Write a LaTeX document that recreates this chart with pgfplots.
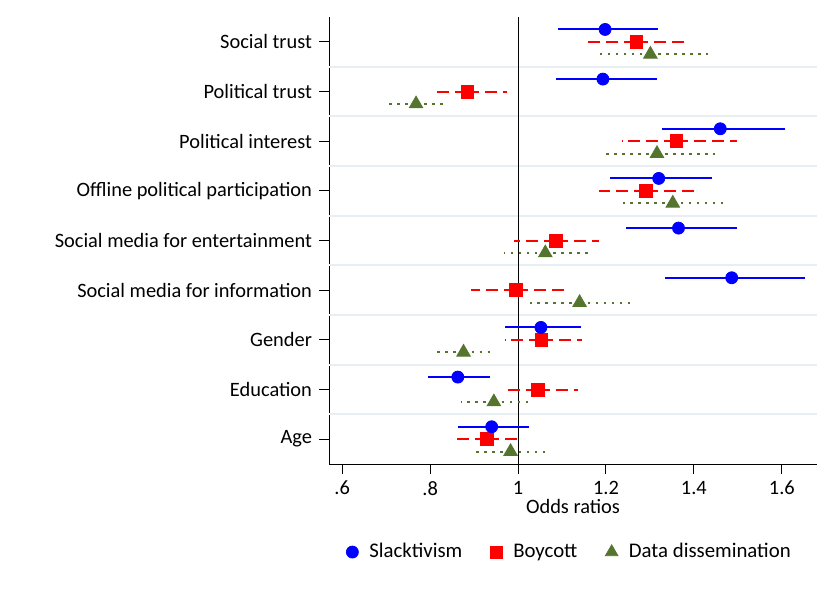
\documentclass[border=0pt]{standalone}
\usepackage{pgfplots}
\pgfplotsset{compat=1.18}
\usepackage{pgfplotstable}
\usepackage{fontspec}
\setmainfont{Carlito}
\definecolor{ddgreen}{RGB}{85,117,47}
\definecolor{gridc}{RGB}{232,239,243}

\pgfplotstableread{
y or lo hi
9.25 1.198 1.090 1.318
8.25 1.193 1.086 1.315
7.25 1.460 1.327 1.608
6.25 1.320 1.210 1.442
5.25 1.365 1.245 1.498
4.25 1.486 1.335 1.653
3.25 1.052 0.970 1.144
2.25 0.863 0.796 0.936
1.25 0.940 0.863 1.024
}\slack

\pgfplotstableread{
y or lo hi
9 1.269 1.152 1.386
8 0.885 0.805 0.974
7 1.360 1.236 1.498
6 1.290 1.183 1.410
5 1.086 0.991 1.183
4 0.996 0.893 1.110
3 1.053 0.971 1.145
2 1.046 0.966 1.136
1 0.929 0.854 1.004
}\boycott

\pgfplotstableread{
y or lo hi
8.75 1.301 1.183 1.432
7.75 0.768 0.698 0.837
6.75 1.316 1.196 1.449
5.75 1.352 1.239 1.475
4.75 1.062 0.968 1.158
3.75 1.140 1.027 1.264
2.75 0.876 0.807 0.945
1.75 0.945 0.871 1.027
0.75 0.983 0.902 1.072
}\dissem

\begin{document}
\begin{tikzpicture}
\useasboundingbox (0,0) rectangle (412.5pt,295.5pt);
\begin{axis}[
  at={(164.5pt,63.5pt)}, anchor=south west,
  scale only axis, width=244pt, height=223.5pt,
  xmin=0.57, xmax=1.68, ymin=0.5, ymax=9.5,
  axis x line*=bottom, axis y line*=left,
  axis line style={black, line width=0.5pt, -},
  xtick={0.6,0.8,1,1.2,1.4,1.6},
  xticklabels={.6,.8,1,1.2,1.4,1.6},
  ytick={1,2,3,4,5,6,7,8,9},
  yticklabels={Age,Education,Gender,Social media for information,Social media for entertainment,Offline political participation,Political interest,Political trust,Social trust},
  tick align=outside, major tick length=5pt,
  tick style={black, line width=0.5pt},
  extra y ticks={1.5,2.5,3.5,4.5,5.5,6.5,7.5,8.5},
  extra y tick labels={},
  extra y tick style={grid=major, major tick length=0pt, grid style={gridc, line width=1pt}},
  xlabel={Odds ratios},
  xlabel style={yshift=5pt},
  font=\fontsize{10.2}{12}\selectfont,
  /pgf/number format/assume math mode=true,
  legend columns=3,
  legend style={draw=none, at={(0.495,-0.197)}, anchor=center, font=\fontsize{10.4}{12}\selectfont,
    /tikz/every even column/.append style={column sep=12pt},
    /tikz/every odd column/.append style={column sep=3.5pt}},
  legend cell align=left,
  clip=false,
]
\addplot[black, line width=0.5pt, forget plot] coordinates {(1,0.5) (1,9.5)};

\addplot[ddgreen, only marks, mark=triangle*, mark size=3.9pt, forget plot,
  error bars/.cd, x dir=both, x explicit, error mark=none,
  error bar style={ddgreen, line width=1pt, dash pattern=on 1.3pt off 2.7pt}]
  table[x=or, y=y, x error plus expr=\thisrow{hi}-\thisrow{or}, x error minus expr=\thisrow{or}-\thisrow{lo}] {\dissem};

\addplot[red, only marks, mark=square*, mark size=3.2pt, forget plot,
  error bars/.cd, x dir=both, x explicit, error mark=none,
  error bar style={red, line width=1pt, dash pattern=on 6pt off 3pt}]
  table[x=or, y=y, x error plus expr=\thisrow{hi}-\thisrow{or}, x error minus expr=\thisrow{or}-\thisrow{lo}] {\boycott};

\addplot[blue, only marks, mark=*, mark size=3pt, forget plot,
  error bars/.cd, x dir=both, x explicit, error mark=none,
  error bar style={blue, line width=1pt, solid}]
  table[x=or, y=y, x error plus expr=\thisrow{hi}-\thisrow{or}, x error minus expr=\thisrow{or}-\thisrow{lo}] {\slack};

\addlegendimage{only marks, mark=*, blue, mark size=3pt}
\addlegendentry{Slacktivism}
\addlegendimage{only marks, mark=square*, red, mark size=3pt}
\addlegendentry{Boycott}
\addlegendimage{only marks, mark=triangle*, ddgreen, mark size=3.6pt}
\addlegendentry{Data dissemination}
\end{axis}
\end{tikzpicture}
\end{document}
